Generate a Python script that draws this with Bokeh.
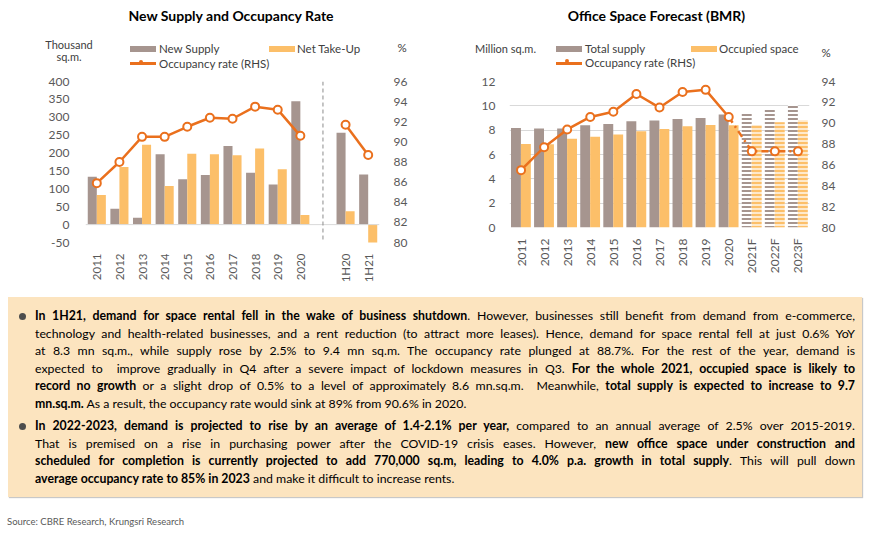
import math
from bokeh.plotting import figure
from bokeh.models import (Range1d, LinearAxis, FixedTicker, Span, Div)
from bokeh.layouts import row, column
from bokeh.embed import file_html
from bokeh.resources import INLINE

# ---------------- data ----------------
# Chart 1: New Supply and Occupancy Rate
c1_title = "New Supply and Occupancy Rate"
c1_unit = ["Thousand", "sq.m."]
c1_series = ["New Supply", "Net Take-Up", "Occupancy rate (RHS)"]
c1_labels = ["2011", "2012", "2013", "2014", "2015", "2016", "2017", "2018",
             "2019", "2020", "1H20", "1H21"]
c1_new_supply = [134, 44, 19, 197, 127, 139, 220, 145, 112, 345, 257, 140]
c1_net_takeup = [83, 161, 223, 108, 198, 197, 194, 213, 155, 27, 37, -52]
c1_occupancy = [85.9, 88.0, 90.5, 90.5, 91.5, 92.4, 92.3, 93.5, 93.2, 90.6, 91.7, 88.7]
c1_left_ticks = [-50, 0, 50, 100, 150, 200, 250, 300, 350, 400]
c1_right_ticks = [80, 82, 84, 86, 88, 90, 92, 94, 96]

# Chart 2: Office Space Forecast (BMR)
c2_title = "Office Space Forecast (BMR)"
c2_unit = ["Million sq.m."]
c2_series = ["Total supply", "Occupied space", "Occupancy rate (RHS)"]
c2_labels = ["2011", "2012", "2013", "2014", "2015", "2016", "2017", "2018",
             "2019", "2020", "2021F", "2022F", "2023F"]
c2_total_supply = [8.18, 8.13, 8.14, 8.40, 8.50, 8.73, 8.80, 8.92, 9.00, 9.28, 9.49, 9.82, 10.10]
c2_occupied = [6.87, 6.84, 7.30, 7.45, 7.64, 7.91, 8.10, 8.32, 8.43, 8.40, 8.43, 8.65, 8.82]
c2_occupancy = [85.5, 87.7, 89.4, 90.6, 91.1, 92.8, 91.5, 93.0, 93.2, 90.6, 87.3, 87.3, 87.3]
c2_left_ticks = [0, 2, 4, 6, 8, 10, 12]
c2_right_ticks = [80, 82, 84, 86, 88, 90, 92, 94]

para1 = [
    "<b>In 1H21, demand for space rental fell in the wake of business shutdown</b>. However, businesses still benefit from demand from e-commerce,",
    "technology and health-related businesses, and a rent reduction (to attract more leases). Hence, demand for space rental fell at just 0.6% YoY",
    "at 8.3 mn sq.m., while supply rose by 2.5% to 9.4 mn sq.m. The occupancy rate plunged at 88.7%. For the rest of the year, demand is",
    "expected to&nbsp; improve gradually in Q4 after a severe impact of lockdown measures in Q3. <b>For the whole 2021, occupied space is likely to</b>",
    "<b>record no growth</b> or a slight drop of 0.5% to a level of approximately 8.6 mn.sq.m.&nbsp; Meanwhile, <b>total supply is expected to increase to 9.7</b>",
    "<b>mn.sq.m.</b> As a result, the occupancy rate would sink at 89% from 90.6% in 2020.",
]
para2 = [
    "<b>In 2022-2023, demand is projected to rise by an average of 1.4-2.1% per year,</b> compared to an annual average of 2.5% over 2015-2019.",
    "That is premised on a rise in purchasing power after the COVID-19 crisis eases. However, <b>new office space under construction and</b>",
    "<b>scheduled for completion is currently projected to add 770,000 sq.m, leading to 4.0% p.a. growth in total supply</b>. This will pull down",
    "<b>average occupancy rate to 85% in 2023</b> and make it difficult to increase rents.",
]
source_text = "Source: CBRE Research, Krungsri Research"

# ---------------- style ----------------
FONT = "Lato"
GRAY = "#A6958F"
YELLOW = "#FCBF69"
ORANGE = "#EA701D"
TICK_COLOR = "#595959"
LEG_COLOR = "#404040"


def style_axis(ax, size="12px"):
    ax.axis_line_color = None
    ax.major_tick_line_color = None
    ax.minor_tick_line_color = None
    ax.major_label_text_font = FONT
    ax.major_label_text_font_size = size
    ax.major_label_text_color = TICK_COLOR


# ---------------- HTML header helpers ----------------
def txt(x, y, text, align="center", size="11.5px", bold=False, color=LEG_COLOR):
    tx = "-50%" if align == "center" else "0"
    w = "bold" if bold else "normal"
    return (f'<div style="position:absolute;left:{x}px;top:{y}px;transform:translate({tx},-50%);'
            f'white-space:nowrap;font-family:{FONT};font-size:{size};font-weight:{w};'
            f'color:{color};line-height:1;">{text}</div>')


def bar_swatch(x, y, color):
    return (f'<div style="position:absolute;left:{x}px;top:{y - 3}px;width:26px;height:6px;'
            f'background:{color};"></div>')


def line_swatch(x, y, color):
    return (f'<div style="position:absolute;left:{x}px;top:{y - 1.25}px;width:26px;height:2.5px;'
            f'background:{color};"></div>'
            f'<div style="position:absolute;left:{x + 13 - 4}px;top:{y - 4}px;width:4px;height:4px;'
            f'border:2px solid {color};border-radius:50%;background:white;"></div>')


def header(title, title_x, unit_lines, unit_x, unit_ys, series, sw_x, sw2_x, pct_x, pct_y,
           row1_y, row2_y):
    parts = [txt(title_x, 8, title, size="14px", bold=True, color="#000000")]
    for ln, yy in zip(unit_lines, unit_ys):
        parts.append(txt(unit_x, yy, ln, size="11px"))
    parts.append(bar_swatch(sw_x, row1_y, GRAY))
    parts.append(txt(sw_x + 29, row1_y, series[0], align="left"))
    parts.append(bar_swatch(sw2_x, row1_y, YELLOW))
    parts.append(txt(sw2_x + 28, row1_y, series[1], align="left"))
    parts.append(line_swatch(sw_x, row2_y, ORANGE))
    parts.append(txt(sw_x + 29, row2_y, series[2], align="left"))
    parts.append(txt(pct_x, pct_y, "%"))
    return ('<div style="position:relative;width:427px;height:64px;">' + "".join(parts) + '</div>')


HEAD_H = 64
BORDER_T = 9
BORDER_B = 55

# ---------------- chart 1 ----------------
c1_axis = c1_labels[:10] + [""] + c1_labels[10:]
c1_x = [c1_axis.index(l) for l in c1_labels]

p1 = figure(width=427, height=BORDER_T + 161 + BORDER_B,
            x_range=Range1d(-0.5, len(c1_axis) - 0.5),
            y_range=Range1d(c1_left_ticks[0], c1_left_ticks[-1]),
            output_backend="svg", toolbar_location=None,
            min_border_left=77, min_border_right=56, min_border_top=BORDER_T,
            min_border_bottom=BORDER_B)
p1.extra_y_ranges = {"occ": Range1d(c1_right_ticks[0], c1_right_ticks[-1])}
p1.outline_line_color = None
p1.grid.visible = False

p1.xaxis.ticker = FixedTicker(ticks=list(range(len(c1_axis))))
p1.xaxis.major_label_overrides = {i: l for i, l in enumerate(c1_axis)}
p1.xaxis.major_label_orientation = math.pi / 2
p1.xaxis.major_label_standoff = 5
style_axis(p1.xaxis[0], "11.5px")
p1.yaxis.ticker = FixedTicker(ticks=c1_left_ticks)
p1.yaxis.major_label_overrides = {t: str(t) for t in c1_left_ticks}
p1.yaxis.major_label_standoff = 10
style_axis(p1.yaxis[0])
ax1r = LinearAxis(y_range_name="occ", ticker=FixedTicker(ticks=c1_right_ticks),
                  major_label_standoff=8)
style_axis(ax1r)
p1.add_layout(ax1r, "right")

p1.add_layout(Span(location=0, dimension="width", line_color="#D9D9D9", line_width=1))
p1.add_layout(Span(location=c1_axis.index(""), dimension="height", line_color="#8C8C8C",
                   line_width=1, line_dash="4 3"))

p1.vbar(x=[x - 0.2 for x in c1_x], top=c1_new_supply, bottom=0, width=0.4,
        fill_color=GRAY, line_color=None)
p1.vbar(x=[x + 0.2 for x in c1_x], top=c1_net_takeup, bottom=0, width=0.4,
        fill_color=YELLOW, line_color=None)
p1.line(x=c1_x[:10], y=c1_occupancy[:10], y_range_name="occ", line_color=ORANGE, line_width=2.5)
p1.line(x=c1_x[10:], y=c1_occupancy[10:], y_range_name="occ", line_color=ORANGE, line_width=2.5)
p1.scatter(x=c1_x, y=c1_occupancy, y_range_name="occ", marker="circle", size=8,
           fill_color="white", line_color=ORANGE, line_width=2)

head1 = Div(text=header(c1_title, 223, c1_unit, 61, [36, 48], c1_series,
                        122, 261, 394, 39.5, 41.3, 55.7),
            width=427, height=HEAD_H, margin=0)

# ---------------- chart 2 ----------------
c2_x = list(range(len(c2_labels)))
hist = [i for i, l in enumerate(c2_labels) if not l.endswith("F")]
fc = [i for i, l in enumerate(c2_labels) if l.endswith("F")]
last_hist = hist[-1]

p2 = figure(width=427, height=BORDER_T + 146 + BORDER_B,
            x_range=Range1d(-0.5, len(c2_labels) - 0.5),
            y_range=Range1d(c2_left_ticks[0], c2_left_ticks[-1]),
            output_backend="svg", toolbar_location=None,
            min_border_left=74, min_border_right=53, min_border_top=BORDER_T,
            min_border_bottom=BORDER_B)
p2.extra_y_ranges = {"occ": Range1d(c2_right_ticks[0], c2_right_ticks[-1])}
p2.outline_line_color = None
p2.xgrid.visible = False
p2.ygrid.ticker = FixedTicker(ticks=c2_left_ticks)
p2.ygrid.grid_line_color = "#D9D9D9"

p2.xaxis.ticker = FixedTicker(ticks=c2_x)
p2.xaxis.major_label_overrides = {i: l for i, l in enumerate(c2_labels)}
p2.xaxis.major_label_orientation = math.pi / 2
p2.xaxis.major_label_standoff = 5
style_axis(p2.xaxis[0], "12px")
p2.yaxis.ticker = FixedTicker(ticks=c2_left_ticks)
p2.yaxis.major_label_standoff = 8
style_axis(p2.yaxis[0])
ax2r = LinearAxis(y_range_name="occ", ticker=FixedTicker(ticks=c2_right_ticks),
                  major_label_standoff=6)
style_axis(ax2r)
p2.add_layout(ax2r, "right")

p2.vbar(x=[i - 0.22 for i in hist], top=[c2_total_supply[i] for i in hist], bottom=0,
        width=0.43, fill_color=GRAY, line_color=None)
p2.vbar(x=[i + 0.21 for i in hist], top=[c2_occupied[i] for i in hist], bottom=0,
        width=0.43, fill_color=YELLOW, line_color=None)
p2.vbar(x=[i - 0.22 for i in fc], top=[c2_total_supply[i] for i in fc], bottom=0,
        width=0.43, fill_color="white", line_color=None, hatch_pattern="horizontal_line",
        hatch_color=GRAY, hatch_scale=4, hatch_weight=2)
p2.vbar(x=[i + 0.21 for i in fc], top=[c2_occupied[i] for i in fc], bottom=0,
        width=0.43, fill_color="#FEE9CB", line_color=None, hatch_pattern="horizontal_line",
        hatch_color=YELLOW, hatch_scale=4, hatch_weight=2)
p2.line(x=hist, y=[c2_occupancy[i] for i in hist], y_range_name="occ",
        line_color=ORANGE, line_width=2.5)
p2.line(x=[last_hist] + fc, y=[c2_occupancy[i] for i in [last_hist] + fc], y_range_name="occ",
        line_color=ORANGE, line_width=2.5, line_dash="7 4 2 4")
p2.scatter(x=c2_x, y=c2_occupancy, y_range_name="occ", marker="circle", size=8,
           fill_color="white", line_color=ORANGE, line_width=2)

head2 = Div(text=header(c2_title, 221.5, c2_unit, 70.5, [39.7], c2_series,
                        121, 256, 391, 44.7, 41, 55.3),
            width=427, height=HEAD_H, margin=0)

# ---------------- text box ----------------
JL = "text-align:justify;text-align-last:justify;"
LL = "text-align:left;"


def para_html(lines, margin_top):
    rows = []
    for k, ln in enumerate(lines):
        st = LL if k == len(lines) - 1 else JL
        rows.append(f'<div style="{st}height:17.5px;">{ln}</div>')
    bullet = ('<span style="position:absolute;left:-16px;top:5.5px;width:7px;height:7px;'
              'border-radius:50%;background:#4D4D4D;"></span>')
    return f'<div style="position:relative;margin-top:{margin_top}px;">{bullet}{"".join(rows)}</div>'


box_html = ('<div style="width:854px;height:200px;box-sizing:border-box;background:#FCE4BF;'
            f'padding:10px 7px 0 27px;font-family:{FONT};font-size:12.3px;line-height:17.5px;'
            'color:#000;box-shadow:1px 1px 1px #C8C8C8;">'
            + para_html(para1, 0) + para_html(para2, 5) + '</div>')
box = Div(text=box_html, width=854, height=200, margin=0)

src = Div(text=(f'<div style="padding-top:19px;margin-left:-1px;font-family:{FONT};font-size:9.5px;'
                f'line-height:12px;color:#595959;">{source_text}</div>'),
          width=854, height=30, margin=0)

charts = row(column(head1, p1, spacing=0), column(head2, p2, spacing=0), spacing=0)
layout = column(charts, box, src, spacing=0, margin=(8, 8, 8, 8))

with open("out.html", "w") as f:
    f.write(file_html(layout, INLINE))
